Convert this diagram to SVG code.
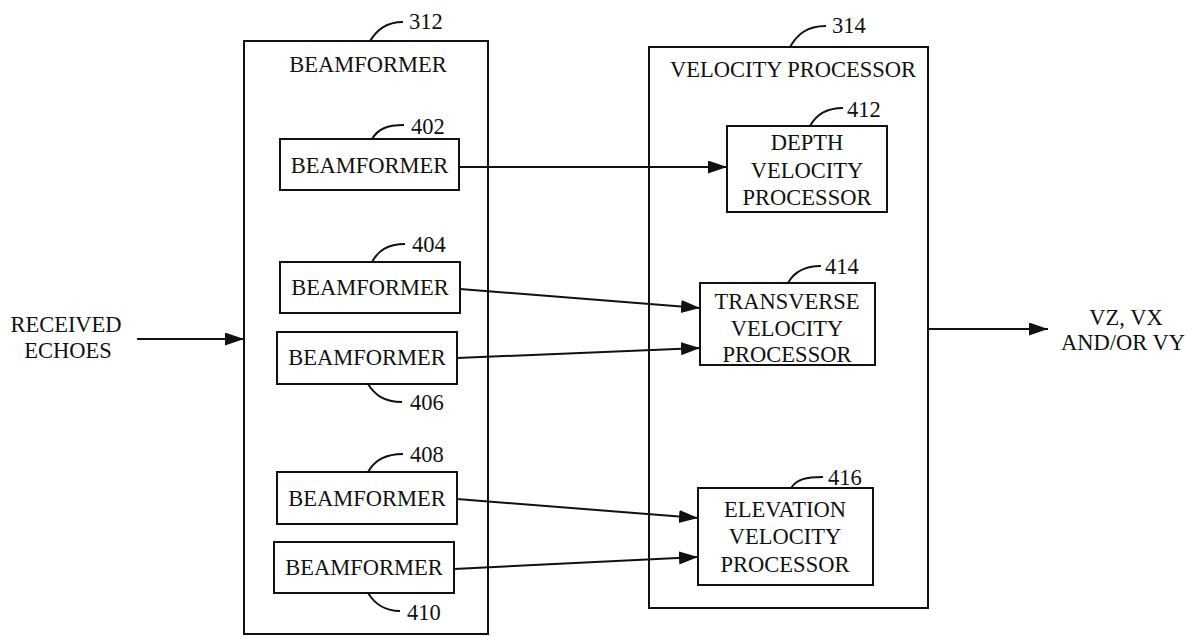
<svg xmlns="http://www.w3.org/2000/svg" width="1199" height="637" viewBox="0 0 1199 637">
<style>
text{font-family:"Liberation Serif","Times New Roman",serif;font-size:22.5px;fill:#111;text-anchor:middle}
text.ref{text-anchor:start}
.box{fill:none;stroke:#111;stroke-width:2}
.lead{fill:none;stroke:#111;stroke-width:2}
.conn line{stroke:#111;stroke-width:2}
</style>
<defs>
<marker id="ah" markerUnits="userSpaceOnUse" markerWidth="20" markerHeight="14" refX="19" refY="6.5" orient="auto">
<path d="M0,0 L19,6.5 L0,13 z" fill="#111"/>
</marker>
</defs>
<g id="n312">
<rect class="box" x="244" y="41" width="244" height="593"/>
<text x="368" y="72">BEAMFORMER</text>
<path class="lead" d="M370,41 C377,30 386,22 403,22"/>
<text class="ref" x="409" y="29">312</text>
</g>
<g id="n402">
<rect class="box" x="280" y="139" width="179" height="51"/>
<text x="369.5" y="173">BEAMFORMER</text>
<path class="lead" d="M372,139 C378,129 387,125 404,125"/>
<text class="ref" x="411" y="134">402</text>
</g>
<g id="n404">
<rect class="box" x="280" y="262" width="180" height="51"/>
<text x="370" y="295">BEAMFORMER</text>
<path class="lead" d="M372,262 C378,251 387,244 405,244"/>
<text class="ref" x="412" y="252">404</text>
</g>
<g id="n406">
<rect class="box" x="277" y="332" width="180" height="52"/>
<text x="367" y="365">BEAMFORMER</text>
<path class="lead" d="M368,384 C375,395 384,402 402,402"/>
<text class="ref" x="410" y="410">406</text>
</g>
<g id="n408">
<rect class="box" x="277" y="472" width="180" height="52"/>
<text x="367" y="506">BEAMFORMER</text>
<path class="lead" d="M368,472 C374,461 384,454 403,454"/>
<text class="ref" x="410" y="462">408</text>
</g>
<g id="n410">
<rect class="box" x="274" y="542" width="180" height="51"/>
<text x="364" y="575">BEAMFORMER</text>
<path class="lead" d="M368,593 C375,604 384,611 400,611"/>
<text class="ref" x="407" y="620">410</text>
</g>
<g id="n314">
<rect class="box" x="649" y="47" width="279" height="561"/>
<text x="793" y="77">VELOCITY PROCESSOR</text>
<path class="lead" d="M790,47 C797,35 806,26 826,26"/>
<text class="ref" x="832" y="33">314</text>
</g>
<g id="n412">
<rect class="box" x="727" y="126" width="160" height="86"/>
<text x="807" y="150">DEPTH</text>
<text x="807" y="178">VELOCITY</text>
<text x="807" y="205">PROCESSOR</text>
<path class="lead" d="M810,126 C816,115 826,108 843,108"/>
<text class="ref" x="847" y="117">412</text>
</g>
<g id="n414">
<rect class="box" x="700" y="283" width="175" height="82"/>
<text x="787" y="309">TRANSVERSE</text>
<text x="787" y="336">VELOCITY</text>
<text x="787" y="362">PROCESSOR</text>
<path class="lead" d="M788,283 C794,272 804,266 821,266"/>
<text class="ref" x="825" y="274">414</text>
</g>
<g id="n416">
<rect class="box" x="698" y="488" width="175" height="97"/>
<text x="785" y="517">ELEVATION</text>
<text x="785" y="544">VELOCITY</text>
<text x="785" y="572">PROCESSOR</text>
<path class="lead" d="M791,488 C797,479 806,477 823,477"/>
<text class="ref" x="828" y="485">416</text>
</g>
<g id="in">
<text x="66" y="332">RECEIVED</text>
<text x="68" y="358">ECHOES</text>
</g>
<g id="out">
<text x="1126" y="325">VZ, VX</text>
<text x="1123" y="350">AND/OR VY</text>
</g>
<g class="conn" id="connectors">
<line x1="137" y1="339" x2="244" y2="339" marker-end="url(#ah)"/>
<line x1="459" y1="167" x2="727" y2="167" marker-end="url(#ah)"/>
<line x1="460" y1="289" x2="700" y2="308" marker-end="url(#ah)"/>
<line x1="457" y1="358" x2="700" y2="348" marker-end="url(#ah)"/>
<line x1="457" y1="499" x2="698" y2="518" marker-end="url(#ah)"/>
<line x1="454" y1="569" x2="698" y2="557" marker-end="url(#ah)"/>
<line x1="928" y1="329" x2="1048" y2="329" marker-end="url(#ah)"/>
</g>
</svg>
